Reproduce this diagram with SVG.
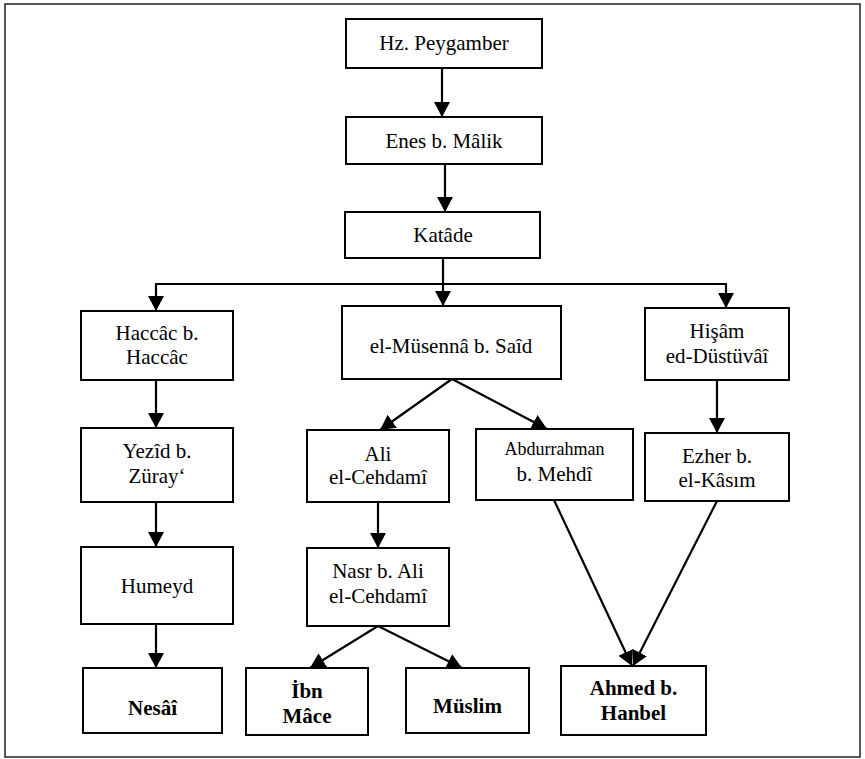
<svg xmlns="http://www.w3.org/2000/svg" width="865" height="759" viewBox="0 0 865 759" font-family="Liberation Serif, DejaVu Serif, serif">
<defs>
<style>
.box{fill:#fff;stroke:#000;stroke-width:2}
.t{font-size:21px;fill:#000;text-anchor:middle}
.b{font-weight:bold}
.s{font-size:18px}
.c{stroke:#000;stroke-width:2.2;fill:none}
.a{marker-end:url(#ah)}
</style>
<marker id="ah" viewBox="0 0 15 16" refX="15" refY="8" markerWidth="15" markerHeight="16" markerUnits="userSpaceOnUse" orient="auto">
<path d="M0,0 L15,8 L0,16 z" fill="#000"/>
</marker>
</defs>
<rect width="865" height="759" fill="#fff"/>
<rect x="5" y="4" width="855" height="753" fill="none" stroke="#222" stroke-width="1.5"/>

<g id="connectors">
<line class="c a" x1="442" y1="68" x2="442" y2="117"/>
<line class="c a" x1="445" y1="164" x2="445" y2="212"/>
<polyline class="c" points="443,258 443,284"/>
<line class="c" x1="155" y1="284" x2="727" y2="284"/>
<line class="c a" x1="156" y1="284" x2="156" y2="311"/>
<line class="c a" x1="443" y1="284" x2="443" y2="306"/>
<line class="c a" x1="726" y1="284" x2="726" y2="308"/>
<line class="c a" x1="156" y1="380" x2="156" y2="428"/>
<line class="c a" x1="156" y1="502" x2="156" y2="547"/>
<line class="c a" x1="156" y1="624" x2="156" y2="668"/>
<line class="c a" x1="452" y1="379" x2="380" y2="430"/>
<line class="c a" x1="452" y1="379" x2="547" y2="429"/>
<line class="c a" x1="717" y1="380" x2="717" y2="433"/>
<line class="c a" x1="378" y1="502" x2="378" y2="548"/>
<line class="c a" x1="378" y1="626" x2="310" y2="668"/>
<line class="c a" x1="378" y1="626" x2="462" y2="668"/>
<line class="c a" x1="554" y1="500" x2="632" y2="666"/>
<line class="c a" x1="717" y1="501" x2="633" y2="666"/>
</g>

<g id="n-peygamber"><rect class="box" x="346" y="19" width="196" height="49"/><text class="t" x="444" y="50">Hz. Peygamber</text></g>
<g id="n-enes"><rect class="box" x="346" y="117" width="196" height="47"/><text class="t" x="444" y="148">Enes b. Mâlik</text></g>
<g id="n-katade"><rect class="box" x="345" y="212" width="195" height="46"/><text class="t" x="443" y="242">Katâde</text></g>

<g id="n-haccac"><rect class="box" x="81" y="311" width="152" height="69"/><text class="t" x="157" y="340">Haccâc b.</text><text class="t" x="157" y="364">Haccâc</text></g>
<g id="n-musenna"><rect class="box" x="342" y="306" width="219" height="73"/><text class="t" x="451" y="353">el-Müsennâ b. Saîd</text></g>
<g id="n-hisam"><rect class="box" x="645" y="308" width="144" height="72"/><text class="t" x="717" y="338">Hişâm</text><text class="t" x="717" y="363">ed-Düstüvâî</text></g>

<g id="n-yezid"><rect class="box" x="81" y="428" width="152" height="74"/><text class="t" x="157" y="458">Yezîd b.</text><text class="t" x="157" y="483">Züray‘</text></g>
<g id="n-ali"><rect class="box" x="307" y="430" width="142" height="72"/><text class="t" x="378" y="461">Ali</text><text class="t" x="378" y="484">el-Cehdamî</text></g>
<g id="n-abdurrahman"><rect class="box" x="476" y="429" width="157" height="71"/><text class="t s" x="554.5" y="455">Abdurrahman</text><text class="t" x="554.5" y="481">b. Mehdî</text></g>
<g id="n-ezher"><rect class="box" x="645" y="433" width="144" height="68"/><text class="t" x="717" y="463">Ezher b.</text><text class="t" x="717" y="487">el-Kâsım</text></g>

<g id="n-humeyd"><rect class="box" x="81" y="547" width="152" height="77"/><text class="t" x="157" y="593">Humeyd</text></g>
<g id="n-nasr"><rect class="box" x="307" y="548" width="142" height="78"/><text class="t" x="378" y="578">Nasr b. Ali</text><text class="t" x="378" y="603">el-Cehdamî</text></g>

<g id="n-nesai"><rect class="box" x="83" y="668" width="139" height="65"/><text class="t b" x="152.5" y="715">Nesâî</text></g>
<g id="n-ibnmace"><rect class="box" x="246" y="668" width="122" height="67"/><text class="t b" x="307" y="698">İbn</text><text class="t b" x="307" y="723">Mâce</text></g>
<g id="n-muslim"><rect class="box" x="406" y="668" width="123" height="65"/><text class="t b" x="467.5" y="713">Müslim</text></g>
<g id="n-ahmed"><rect class="box" x="561" y="666" width="145" height="69"/><text class="t b" x="633.5" y="695">Ahmed b.</text><text class="t b" x="633.5" y="720">Hanbel</text></g>
</svg>
